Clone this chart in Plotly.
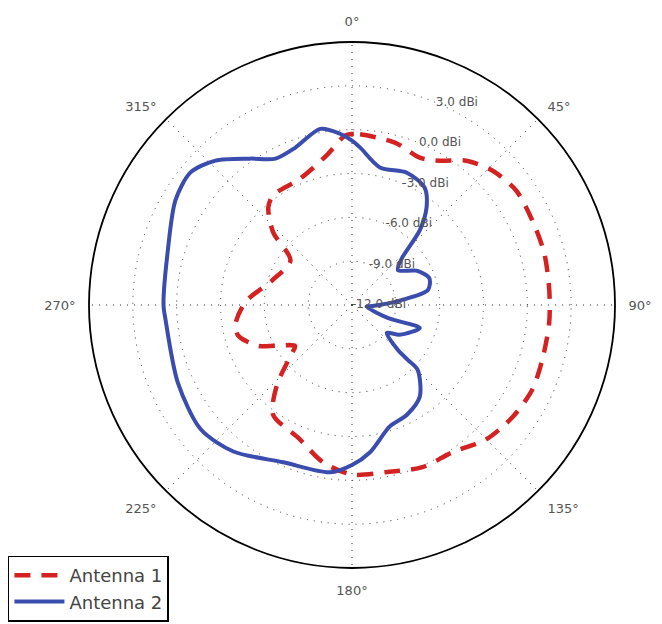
import plotly.graph_objects as go

# ---- data (compass angles, degrees clockwise from north; gain in dBi) ----
ant1_theta = [0, 2.7, 14.8, 24.7, 31.3, 38.4, 46.2, 55.1, 64.8, 74.9, 85.7, 95.2, 106, 115.2,
              125, 135, 145.7, 156.5, 167.3, 180, 190.4, 202.1, 215.7, 223.2, 231.3, 234.3,
              242, 246.4, 254.7, 260.3, 271.6, 287.4, 305.9, 312.7, 319.4, 324.3, 337.7,
              350.5, 357.6, 360]
ant1_gain = [-0.3, -0.3, -0.5, -0.9, -0.45, 0.6, 1.3, 1.7, 1.63, 1.63, 1.54, 1.55, 1.55, 1.63,
             1.4, 1.0, 0.2, 0.1, -0.3, -0.4, -1.05, -2.2, -2.75, -4.5, -6.75, -7.2,
             -6.05, -5.0, -3.95, -3.9, -4.7, -6.3, -6.8, -4.65, -3.2, -2.75, -2.65,
             -1.6, -0.4, -0.3]

ant2_theta = [0, 2.9, 11.5, 22.5, 31.7, 37.4, 42.2, 46.8, 52.7, 62, 70.9, 78.8, 84.3, 92.9,
              96, 109.9, 108.7, 122, 128.7, 134.4, 134.5, 134.6, 143.5, 153.4, 162.7, 173,
              180, 187.5, 203.6, 219, 230.6, 246, 265.4, 270, 286.6, 300.7, 309.4, 316.6,
              325.2, 332.4, 340.2, 349.8, 356, 360]
ant2_gain = [-0.75, -1.2, -2.4, -2.2, -2.55, -3.6, -5.1, -7.3, -8.05, -7.0, -6.4, -6.7, -8.6, -10.6,
             -11.0, -9.4, -7.1, -8.15, -8.95, -7.6, -6.65, -5.7, -4.2, -3.6, -3.3, -1.85,
             -1.05, -0.45, -0.25, 0.9, 1.4, 1.05, 0.8, 0.9, 1.15, 2.05, 2.3, 1.6,
             0.2, -0.7, -0.55, 0.25, -0.25, -0.75]

r_range = [-12, 6]
r_ticks = [-12, -9, -6, -3, 0, 3]
r_tick_labels = ["-12.0 dBi", "-9.0 dBi", "-6.0 dBi", "-3.0 dBi", "0.0 dBi", "3.0 dBi"]
theta_ticks = [0, 45, 90, 135, 180, 225, 270, 315]
theta_tick_labels = ["0°", "45°", "90°", "135°", "180°", "225°", "270°", "315°"]
r_label_angle = 22.5

fig = go.Figure()

fig.add_trace(go.Scatterpolar(
    r=ant1_gain, theta=ant1_theta, mode="lines", name="Antenna 1",
    line=dict(color="#d42222", width=4.5, dash="16px,11px", shape="spline", smoothing=0.8),
))
fig.add_trace(go.Scatterpolar(
    r=ant2_gain, theta=ant2_theta, mode="lines", name="Antenna 2",
    line=dict(color="#3a4cad", width=4, shape="spline", smoothing=0.8),
))
fig.add_trace(go.Scatterpolar(
    r=r_ticks, theta=[r_label_angle] * len(r_ticks), mode="text",
    text=r_tick_labels, textposition="middle right",
    textfont=dict(family="DejaVu Sans", size=12, color="#555555"),
    showlegend=False, hoverinfo="skip",
))

fig.update_layout(
    width=662, height=624,
    margin=dict(l=0, r=0, t=0, b=0),
    paper_bgcolor="white",
    font=dict(family="DejaVu Sans", color="#555555"),
    polar=dict(
        domain=dict(x=[89 / 662, 615 / 662], y=[56 / 624, 582 / 624]),
        bgcolor="white",
        radialaxis=dict(
            range=r_range, tickvals=r_ticks, showticklabels=False, ticks="",
            showline=False, gridcolor="#333333", griddash="1px,6px", gridwidth=1.3,
        ),
        angularaxis=dict(
            direction="clockwise", rotation=90,
            tickvals=theta_ticks, ticktext=theta_tick_labels,
            ticks="outside", ticklen=10, tickcolor="rgba(0,0,0,0)",
            tickfont=dict(size=13, color="#555555"),
            showline=True, linecolor="black", linewidth=1.8,
            gridcolor="#333333", griddash="1px,6px", gridwidth=1.3,
        ),
    ),
    legend=dict(
        x=0.012, y=0.004, xanchor="left", yanchor="bottom",
        bordercolor="black", borderwidth=1.5, bgcolor="white",
        font=dict(family="DejaVu Sans", size=18, color="#444444"),
        itemwidth=50, tracegroupgap=0,
    ),
)

fig.write_html("out.html", config={"displayModeBar": False},
               post_script="document.body.style.margin='0';")
